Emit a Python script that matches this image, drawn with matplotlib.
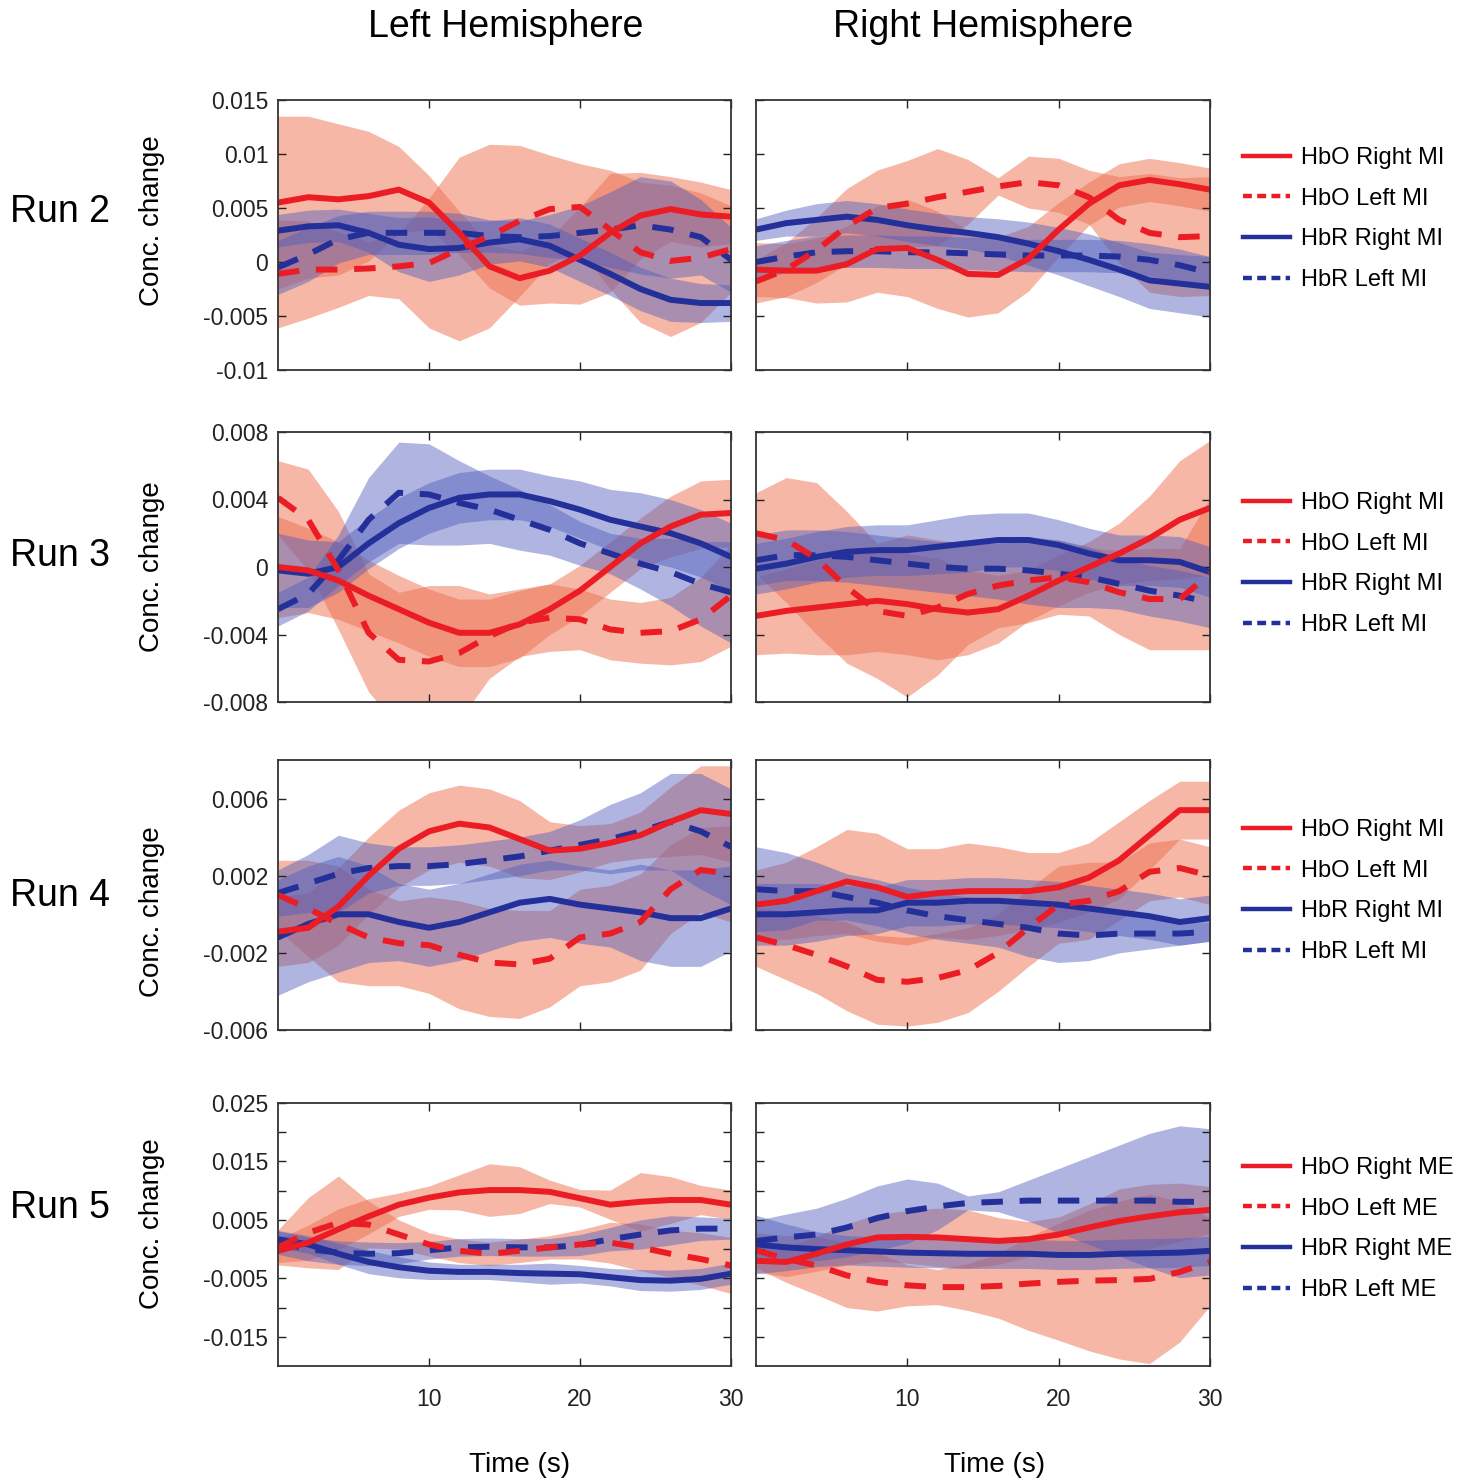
import numpy as np
import matplotlib
matplotlib.use("Agg")
import matplotlib.pyplot as plt
from matplotlib.lines import Line2D

plt.rcParams["font.family"] = ["Liberation Sans", "DejaVu Sans"]
plt.rcParams["axes.unicode_minus"] = False

# ── data (concentration change, in units of 1e-3) ─────────────────────────
TIME = [0, 2, 4, 6, 8, 10, 12, 14, 16, 18, 20, 22, 24, 26, 28, 30]
SCALE = 1e-3

# Run 2, left hemisphere
R2L_HBO_R    = [5.5, 6.0, 5.8, 6.1, 6.7, 5.5, 2.7, -0.4, -1.5, -0.8, 0.6, 2.7, 4.3, 4.9, 4.4, 4.2]
R2L_HBO_R_SD = [8, 7.5, 7, 6, 4, 2.5, 2, 2, 2.5, 3, 4.5, 5.5, 4, 3, 3, 2.5]
R2L_HBO_L    = [-1.1, -0.7, -0.7, -0.6, -0.4, -0.1, 1.2, 2.4, 3.8, 4.9, 5.1, 3.0, 0.9, 0.1, 0.4, 1.2]
R2L_HBO_L_SD = [5, 4.5, 3.5, 2.5, 3, 6, 8.5, 8.5, 7, 5, 4, 5.5, 6.5, 7, 6, 4]
R2L_HBR_R    = [2.9, 3.3, 3.4, 2.7, 1.6, 1.2, 1.3, 1.8, 2.1, 1.5, 0.2, -1.1, -2.5, -3.5, -3.8, -3.8]
R2L_HBR_R_SD = [1.5, 1.5, 1.5, 1.8, 2.5, 3, 2.5, 2, 2, 2, 2, 2, 2, 2, 1.8, 1.7]
R2L_HBR_L    = [-0.5, 0.7, 2.1, 2.7, 2.7, 2.7, 2.7, 2.4, 2.3, 2.4, 2.7, 3.0, 3.4, 3.0, 2.3, 0.2]
R2L_HBR_L_SD = [2.5, 2.5, 2.2, 2, 2, 2, 1.8, 1.5, 1.5, 2, 2.5, 3.5, 4.5, 4.5, 3.5, 3]

# Run 2, right hemisphere
R2R_HBO_R    = [-0.7, -0.8, -0.8, -0.2, 1.2, 1.3, 0.2, -1.1, -1.2, 0.3, 3.0, 5.4, 7.1, 7.6, 7.2, 6.7]
R2R_HBO_R_SD = [2.5, 2.5, 3, 3.5, 4, 4.5, 4.5, 4, 3.5, 3, 2.5, 2, 2, 2, 2, 2]
R2R_HBO_L    = [-1.8, -0.7, 1.1, 3.3, 5.0, 5.4, 6.0, 6.5, 7.0, 7.4, 7.1, 6.0, 3.9, 2.7, 2.3, 2.4]
R2R_HBO_L_SD = [2, 2.5, 3, 3.5, 3.5, 4, 4.5, 3, 0.8, 2.4, 2.5, 2.5, 4, 5.5, 5.5, 5.5]
R2R_HBR_R    = [3.0, 3.6, 3.9, 4.2, 3.9, 3.4, 3.0, 2.7, 2.3, 1.7, 1.0, 0.2, -0.7, -1.7, -2.0, -2.3]
R2R_HBR_R_SD = [1, 1.2, 1.5, 1.5, 1.5, 1.5, 1.5, 1.5, 1.7, 2, 2.2, 2.4, 2.5, 2.6, 2.7, 2.8]
R2R_HBR_L    = [0.0, 0.5, 0.9, 1.0, 1.0, 0.9, 0.9, 0.8, 0.7, 0.6, 0.6, 0.6, 0.5, 0.2, -0.3, -1.0]
R2R_HBR_L_SD = [1.5, 1.5, 1.5, 1.5, 1.5, 1.5, 1.5, 1.5, 1.5, 1.5, 1.5, 1.5, 1.5, 1.5, 1.5, 1.5]

# Run 3, left hemisphere
R3L_HBO_R    = [0.0, -0.2, -0.8, -1.7, -2.5, -3.3, -3.9, -3.9, -3.4, -2.5, -1.4, 0.0, 1.4, 2.4, 3.1, 3.2]
R3L_HBO_R_SD = [3, 2.5, 2.3, 2.1, 2, 2, 2, 2, 2, 1.5, 1.5, 1.5, 1.5, 1.8, 2, 2]
R3L_HBO_L    = [4.1, 2.8, -0.2, -3.9, -5.5, -5.6, -5.1, -4.1, -3.3, -3.0, -3.1, -3.7, -3.9, -3.8, -3.1, -1.7]
R3L_HBO_L_SD = [2.2, 3, 3.5, 3.5, 4, 4.5, 4, 2.5, 2, 2, 1.8, 1.8, 1.8, 2, 2.5, 3]
R3L_HBR_R    = [-0.2, -0.4, 0.0, 1.4, 2.6, 3.5, 4.1, 4.3, 4.3, 3.9, 3.4, 2.8, 2.4, 2.0, 1.4, 0.6]
R3L_HBR_R_SD = [2.2, 2, 1.5, 1.5, 1.5, 1.5, 1.5, 1.5, 1.5, 1.5, 1.7, 1.8, 2, 2, 2, 2]
R3L_HBR_L    = [-2.5, -1.6, 0.4, 2.8, 4.4, 4.3, 3.8, 3.4, 2.8, 2.2, 1.4, 0.8, 0.2, -0.3, -1.0, -1.5]
R3L_HBR_L_SD = [1, 1, 1.5, 2.5, 3, 3, 2.5, 2, 1.8, 1.5, 1.3, 1.2, 1.5, 2, 2.5, 3]

# Run 3, right hemisphere
R3R_HBO_R    = [-2.9, -2.6, -2.4, -2.2, -2.0, -2.2, -2.5, -2.7, -2.5, -1.7, -0.8, 0.0, 0.8, 1.7, 2.8, 3.5]
R3R_HBO_R_SD = [2.3, 2.5, 2.8, 3, 3, 3, 3, 2.5, 2, 1.5, 1.5, 1.5, 1.8, 2.5, 3.5, 4]
R3R_HBO_L    = [2.0, 1.6, 0.5, -1.2, -2.6, -2.9, -2.4, -1.6, -1.1, -0.8, -0.6, -0.9, -1.5, -1.9, -1.9, -0.4]
R3R_HBO_L_SD = [2.4, 3.7, 4.5, 4.5, 4, 4.8, 4, 3, 2.5, 2.5, 2.2, 2, 2.5, 3, 3, 4.5]
R3R_HBR_R    = [-0.1, 0.2, 0.6, 0.9, 1.0, 1.0, 1.2, 1.4, 1.6, 1.6, 1.3, 0.8, 0.4, 0.4, 0.3, -0.3]
R3R_HBR_R_SD = [1.5, 1.5, 1.5, 1.5, 1.5, 1.5, 1.6, 1.7, 1.6, 1.6, 1.5, 1.5, 1.5, 1.5, 1.5, 1.5]
R3R_HBR_L    = [0.4, 0.7, 0.7, 0.6, 0.4, 0.2, 0.0, -0.1, -0.1, -0.2, -0.4, -0.6, -1.0, -1.4, -1.7, -2.1]
R3R_HBR_L_SD = [1.5, 1.5, 1.5, 1.5, 1.5, 1.5, 1.5, 1.6, 1.8, 2, 2, 1.8, 1.5, 1.5, 1.5, 1.5]

# Run 4, left hemisphere
R4L_HBO_R    = [-0.9, -0.7, 0.4, 2.0, 3.4, 4.3, 4.7, 4.5, 3.9, 3.3, 3.4, 3.7, 4.1, 4.8, 5.4, 5.2]
R4L_HBO_R_SD = [1.8, 1.8, 2, 2, 2, 2, 2, 2, 2, 1.5, 1.2, 1.0, 1.2, 1.8, 2.3, 2.5]
R4L_HBO_L    = [1.0, 0.3, -0.5, -1.2, -1.5, -1.6, -2.1, -2.5, -2.6, -2.3, -1.2, -1.0, -0.4, 1.3, 2.3, 2.1]
R4L_HBO_L_SD = [1.8, 2.5, 3, 2.5, 2.2, 2.5, 2.8, 2.8, 2.8, 2.5, 2.5, 2.5, 2.5, 2.3, 2.2, 2.5]
R4L_HBR_R    = [-1.2, -0.5, 0.0, 0.0, -0.4, -0.7, -0.4, 0.1, 0.6, 0.8, 0.5, 0.3, 0.1, -0.2, -0.2, 0.3]
R4L_HBR_R_SD = [3, 3, 3, 2.5, 2, 2, 2, 2, 2, 2, 2, 2, 2.5, 2.5, 2.5, 2.2]
R4L_HBR_L    = [1.1, 1.6, 2.1, 2.4, 2.5, 2.5, 2.6, 2.8, 3.0, 3.3, 3.6, 3.9, 4.3, 4.8, 4.3, 3.5]
R4L_HBR_L_SD = [1.2, 1.5, 2, 1.3, 1, 1, 1, 1, 1, 1, 1.3, 1.8, 2, 2.5, 3, 3]

# Run 4, right hemisphere
R4R_HBO_R    = [0.5, 0.7, 1.2, 1.7, 1.4, 0.9, 1.1, 1.2, 1.2, 1.2, 1.4, 1.9, 2.8, 4.1, 5.4, 5.4]
R4R_HBO_R_SD = [1.8, 2, 2.3, 2.7, 2.8, 2.5, 2.3, 2.5, 2.3, 2, 1.8, 1.8, 2, 1.8, 1.5, 1.5]
R4R_HBO_L    = [-1.2, -1.6, -2.1, -2.7, -3.4, -3.5, -3.3, -2.9, -2.0, -0.7, 0.5, 0.7, 1.2, 2.2, 2.4, 2.0]
R4R_HBO_L_SD = [1.5, 1.8, 2, 2.3, 2.3, 2.3, 2.3, 2.2, 2, 2, 2, 2, 1.5, 1.5, 1.5, 1.5]
R4R_HBR_R    = [0.0, 0.0, 0.1, 0.2, 0.2, 0.6, 0.6, 0.7, 0.7, 0.6, 0.5, 0.3, 0.1, -0.1, -0.4, -0.2]
R4R_HBR_R_SD = [1.6, 1.6, 1.5, 1.3, 1.2, 1.2, 1.2, 1.2, 1.2, 1.2, 1.2, 1.2, 1.2, 1.2, 1.2, 1.2]
R4R_HBR_L    = [1.3, 1.2, 1.2, 0.9, 0.6, 0.2, -0.1, -0.3, -0.5, -0.7, -1.0, -1.1, -1.0, -1.0, -1.0, -0.9]
R4R_HBR_L_SD = [2.2, 2, 1.5, 1.2, 1.2, 1.2, 1.2, 1.2, 1.2, 1.5, 1.5, 1.3, 1.0, 0.8, 0.6, 0.5]

# Run 5, left hemisphere
R5L_HBO_R    = [-0.3, 1.1, 3.4, 5.6, 7.6, 8.8, 9.7, 10.1, 10.1, 9.8, 8.7, 7.6, 8.1, 8.4, 8.4, 7.6]
R5L_HBO_R_SD = [2, 3, 3.5, 3, 2, 2, 3, 4.5, 4, 2, 1.5, 2.5, 5, 4, 2.5, 2.5]
R5L_HBO_L    = [0.3, 2.8, 4.5, 4.2, 2.5, 0.8, -0.3, -0.8, -0.3, 0.3, 0.8, 1.1, 0.3, -0.8, -1.7, -2.8]
R5L_HBO_L_SD = [3, 6, 8, 4, 2.5, 2, 2, 2, 2, 2, 2.5, 3.5, 4, 4, 4.5, 4.8]
R5L_HBR_R    = [1.7, 0.8, -0.8, -2.2, -3.1, -3.7, -3.9, -3.9, -4.1, -4.2, -4.3, -4.8, -5.3, -5.4, -5.1, -4.2]
R5L_HBR_R_SD = [1.5, 1.5, 1.8, 2, 1.8, 1.5, 1.3, 1.3, 1.5, 1.8, 1.5, 1.5, 1.8, 1.8, 1.8, 1.8]
R5L_HBR_L    = [1.1, 0.0, -0.6, -0.8, -0.7, -0.2, 0.3, 0.4, 0.3, 0.3, 0.7, 1.7, 2.5, 3.2, 3.5, 3.5]
R5L_HBR_L_SD = [2, 2, 2, 2, 1.8, 1.5, 1.5, 1.5, 1.5, 1.5, 1.8, 2, 2.5, 2.5, 2, 1.8]

# Run 5, right hemisphere
R5R_HBO_R    = [-2.0, -2.2, -0.8, 0.8, 2.0, 2.1, 2.0, 1.7, 1.4, 1.7, 2.5, 3.7, 4.8, 5.6, 6.3, 6.7]
R5R_HBO_R_SD = [2, 2.5, 3, 3.5, 4, 4.5, 5, 5, 4, 3, 3, 4, 5.5, 5.5, 5, 4]
R5R_HBO_L    = [-0.2, -1.7, -2.8, -4.5, -5.6, -6.2, -6.5, -6.5, -6.3, -5.9, -5.6, -5.4, -5.3, -5.1, -3.9, -2.2]
R5R_HBO_L_SD = [3, 4, 5, 5.5, 5, 3.5, 3, 4, 5.5, 8, 10, 12, 13.5, 14.5, 12, 7.5]
R5R_HBR_R    = [0.8, 0.3, 0.0, -0.2, -0.4, -0.6, -0.7, -0.8, -0.8, -0.8, -1.0, -1.0, -0.8, -0.7, -0.6, -0.3]
R5R_HBR_R_SD = [5, 4, 3, 2.5, 2.5, 2.5, 2.5, 2.5, 2.5, 2.5, 2.5, 2.5, 2.5, 2.5, 2.5, 2.5]
R5R_HBR_L    = [1.4, 2.0, 2.5, 3.7, 5.3, 6.5, 7.3, 7.9, 8.1, 8.3, 8.3, 8.3, 8.3, 8.3, 8.1, 8.1]
R5R_HBR_L_SD = [3.5, 4, 4.5, 5, 5.5, 5.5, 4, 1.2, 1.7, 3.5, 5.5, 7.5, 9.5, 11.5, 13, 12.5]

RUNS  = ["Run 2", "Run 3", "Run 4", "Run 5"]
TASKS = ["MI", "MI", "MI", "ME"]
HEMIS = ["Left Hemisphere", "Right Hemisphere"]
SERIES_NAMES = ["HbO Right", "HbO Left", "HbR Right", "HbR Left"]

YLIMS = [(-0.01, 0.015), (-0.008, 0.008), (-0.006, 0.008), (-0.02, 0.025)]
YTICKS = [
    [-0.01, -0.005, 0, 0.005, 0.01, 0.015],
    [-0.008, -0.004, 0, 0.004, 0.008],
    [-0.006, -0.002, 0.002, 0.006],
    [-0.015, -0.01, -0.005, 0, 0.005, 0.01, 0.015, 0.02, 0.025],
]
YTICKLABELS = [
    ["-0.01", "-0.005", "0", "0.005", "0.01", "0.015"],
    ["-0.008", "-0.004", "0", "0.004", "0.008"],
    ["-0.006", "-0.002", "0.002", "0.006"],
    ["-0.015", "", "-0.005", "", "0.005", "", "0.015", "", "0.025"],
]
XTICKS = [10, 20, 30]

PANELS = [
    [[(R2L_HBO_R, R2L_HBO_R_SD), (R2L_HBO_L, R2L_HBO_L_SD), (R2L_HBR_R, R2L_HBR_R_SD), (R2L_HBR_L, R2L_HBR_L_SD)],
     [(R2R_HBO_R, R2R_HBO_R_SD), (R2R_HBO_L, R2R_HBO_L_SD), (R2R_HBR_R, R2R_HBR_R_SD), (R2R_HBR_L, R2R_HBR_L_SD)]],
    [[(R3L_HBO_R, R3L_HBO_R_SD), (R3L_HBO_L, R3L_HBO_L_SD), (R3L_HBR_R, R3L_HBR_R_SD), (R3L_HBR_L, R3L_HBR_L_SD)],
     [(R3R_HBO_R, R3R_HBO_R_SD), (R3R_HBO_L, R3R_HBO_L_SD), (R3R_HBR_R, R3R_HBR_R_SD), (R3R_HBR_L, R3R_HBR_L_SD)]],
    [[(R4L_HBO_R, R4L_HBO_R_SD), (R4L_HBO_L, R4L_HBO_L_SD), (R4L_HBR_R, R4L_HBR_R_SD), (R4L_HBR_L, R4L_HBR_L_SD)],
     [(R4R_HBO_R, R4R_HBO_R_SD), (R4R_HBO_L, R4R_HBO_L_SD), (R4R_HBR_R, R4R_HBR_R_SD), (R4R_HBR_L, R4R_HBR_L_SD)]],
    [[(R5L_HBO_R, R5L_HBO_R_SD), (R5L_HBO_L, R5L_HBO_L_SD), (R5L_HBR_R, R5L_HBR_R_SD), (R5L_HBR_L, R5L_HBR_L_SD)],
     [(R5R_HBO_R, R5R_HBO_R_SD), (R5R_HBO_L, R5R_HBO_L_SD), (R5R_HBR_R, R5R_HBR_R_SD), (R5R_HBR_L, R5R_HBR_L_SD)]],
]

# ── style ──────────────────────────────────────────────────────────────────
RED, BLUE = "#EC1C24", "#24309A"
RED_FILL, BLUE_FILL = "#EE7050", "#4E5CBC"
DASH = (0, (3.6, 2.8))
LEG_DASH = (0, (2.0, 1.2))
STYLES = [
    dict(color=RED,  fill=RED_FILL,  alpha=0.5, ls="-"),
    dict(color=RED,  fill=RED_FILL,  alpha=0.5, ls=DASH),
    dict(color=BLUE, fill=BLUE_FILL, alpha=0.45, ls="-"),
    dict(color=BLUE, fill=BLUE_FILL, alpha=0.45, ls=DASH),
]
LINE_ORDER = [3, 2, 1, 0]

W, H = 1471, 1481
def fx(px): return px / W
def fy(py): return 1 - py / H

COL_X = [(278, 731), (756, 1210)]
ROW_Y = [(100, 370), (432, 702), (760, 1030), (1103, 1366)]
RUN_LABEL_Y = [212, 556, 896, 1208]
YLABEL_Y = [221, 567, 912, 1224]
LEGEND_Y = [147, 492, 819, 1157]

fig = plt.figure(figsize=(W / 100, H / 100), dpi=100)

for r in range(4):
    y0, y1 = ROW_Y[r]
    for c in range(2):
        x0, x1 = COL_X[c]
        ax = fig.add_axes([fx(x0), fy(y1), (x1 - x0) / W, (y1 - y0) / H])
        series = PANELS[r][c]
        for (mean, sd), st in zip(series, STYLES):
            m = np.array(mean) * SCALE
            s = np.array(sd) * SCALE
            ax.fill_between(TIME, m - s, m + s, color=st["fill"], alpha=st["alpha"], lw=0)
        for k in LINE_ORDER:
            mean, _ = series[k]
            st = STYLES[k]
            ax.plot(TIME, np.array(mean) * SCALE, color=st["color"], ls=st["ls"], lw=4.3)
        ax.set_xlim(0, 30)
        ax.set_ylim(*YLIMS[r])
        ax.set_xticks(XTICKS)
        ax.set_yticks(YTICKS[r])
        if c == 0:
            ax.set_yticklabels(YTICKLABELS[r])
        else:
            ax.set_yticklabels([])
        if r == 3:
            ax.set_xticklabels([str(v) for v in XTICKS])
        else:
            ax.set_xticklabels([])
        ax.tick_params(direction="in", length=6, width=1, top=True, right=True,
                       labelsize=16.5, colors="#222222")
        ax.tick_params(axis="x", pad=16)
        ax.tick_params(axis="y", pad=7)
        for sp in ax.spines.values():
            sp.set_linewidth(1.3)
            sp.set_color("#333333")

        if c == 1:
            handles = [
                Line2D([], [], color=RED, lw=3.2, ls="-"),
                Line2D([], [], color=RED, lw=3.2, ls=LEG_DASH),
                Line2D([], [], color=BLUE, lw=3.2, ls="-"),
                Line2D([], [], color=BLUE, lw=3.2, ls=LEG_DASH),
            ]
            labels = [f"{n} {TASKS[r]}" for n in SERIES_NAMES]
            ax.legend(handles, labels, loc="upper left",
                      bbox_to_anchor=(fx(1243), fy(LEGEND_Y[r])),
                      bbox_transform=fig.transFigure, frameon=False,
                      fontsize=17, handlelength=2.0, handletextpad=0.45,
                      labelspacing=0.79, borderpad=0, borderaxespad=0)

    fig.text(fx(10), fy(RUN_LABEL_Y[r]), RUNS[r], fontsize=27, ha="left", va="center")
    fig.text(fx(152), fy(YLABEL_Y[r]), "Conc. change", fontsize=20, rotation=90,
             ha="center", va="center")

fig.text(fx(506), fy(27), HEMIS[0], fontsize=27, ha="center", va="center")
fig.text(fx(983), fy(27), HEMIS[1], fontsize=27, ha="center", va="center")
fig.text(fx(520), fy(1465), "Time (s)", fontsize=20, ha="center", va="center")
fig.text(fx(995), fy(1465), "Time (s)", fontsize=20, ha="center", va="center")

fig.savefig("out.png", dpi=100)
